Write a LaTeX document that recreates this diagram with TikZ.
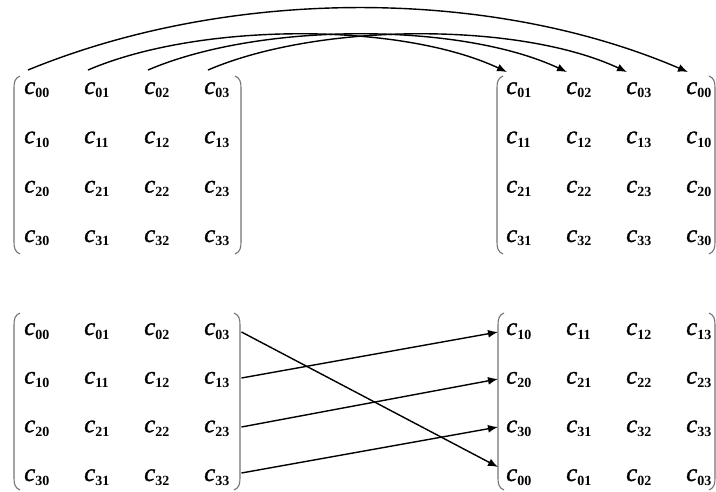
\documentclass[tikz,border=0pt]{standalone}
\usepackage{fontspec}
\setmainfont{Liberation Serif}
\newfontface\citfont{Liberation Serif Italic}[FakeBold=1.2]
\usetikzlibrary{arrows.meta}
\newcommand{\ent}[2]{{\fontsize{25}{25}\selectfont\citfont c}\raisebox{-4pt}{\fontsize{14}{14}\selectfont\bfseries #1#2}}
\tikzset{
  entry/.style={inner sep=0pt, anchor=base west},
  arr/.style={line width=1.4pt, -{Latex[length=10pt,width=8pt]}},
  paren/.style={draw=black!55, line width=1.1pt},
}
\begin{document}
\begin{tikzpicture}[x=1pt,y=-1pt]
\useasboundingbox (0,0) rectangle (716,492);
% parentheses
\foreach \xl/\xr/\t/\b in {14/241/76/254, 497/715/76/254, 14/240/313/490, 498/715/313/490}{
  \draw[paren] (\xl+6,\t) .. controls (\xl+1,\t+2) and (\xl,\t+6) .. (\xl,\t+12) -- (\xl,\b-12) .. controls (\xl,\b-6) and (\xl+1,\b-2) .. (\xl+6,\b);
  \draw[paren] (\xr-6,\t) .. controls (\xr-1,\t+2) and (\xr,\t+6) .. (\xr,\t+12) -- (\xr,\b-12) .. controls (\xr,\b-6) and (\xr-1,\b-2) .. (\xr-6,\b);
}
% top-left matrix
\foreach \i/\y in {0/94,1/143.3,2/192.6,3/242}{
  \foreach \j/\x in {0/24,1/84,2/144,3/204}{
    \node[entry] (tl\i\j) at (\x,\y) {\ent{\i}{\j}};
  }
}
% top-right matrix (columns rotated)
\foreach \i/\y in {0/94,1/143.3,2/192.6,3/242}{
  \foreach \j/\x/\s in {0/506/1,1/566/2,2/626/3,3/686/0}{
    \node[entry] (tr\i\j) at (\x,\y) {\ent{\i}{\s}};
  }
}
% bottom-left matrix
\foreach \i/\y in {0/335,1/383.7,2/432.3,3/481}{
  \foreach \j/\x in {0/24,1/84,2/144,3/204}{
    \node[entry] (bl\i\j) at (\x,\y) {\ent{\i}{\j}};
  }
}
% bottom-right matrix (rows rotated)
\foreach \i/\y/\s in {0/335/1,1/383.7/2,2/432.3/3,3/481/0}{
  \foreach \j/\x in {0/506,1/566,2/626,3/686}{
    \node[entry] (br\i\j) at (\x,\y) {\ent{\s}{\j}};
  }
}
% top arrows
\draw[arr] ([shift={(4,-24)}]tl00.base west) .. controls (230,-13) and (490,-13) .. ([shift={(2,-22)}]tr03.base west);
\draw[arr] ([shift={(4,-24)}]tl01.base west) .. controls (200,22) and (400,22) .. ([shift={(1,-22)}]tr00.base west);
\draw[arr] ([shift={(4,-24)}]tl02.base west) .. controls (260,22) and (460,22) .. ([shift={(1,-22)}]tr01.base west);
\draw[arr] ([shift={(4,-24)}]tl03.base west) .. controls (320,22) and (520,22) .. ([shift={(1,-22)}]tr02.base west);
% bottom arrows
\draw[arr] ([shift={(12,-3)}]bl03.base east) -- ([shift={(-8,-14)}]br30.base west);
\draw[arr] ([shift={(12,-5.7)}]bl13.base east) -- ([shift={(-8,-3)}]br00.base west);
\draw[arr] ([shift={(12,-5.3)}]bl23.base east) -- ([shift={(-8,-4.7)}]br10.base west);
\draw[arr] ([shift={(12,-8)}]bl33.base east) -- ([shift={(-8,-5.3)}]br20.base west);
\end{tikzpicture}
\end{document}
